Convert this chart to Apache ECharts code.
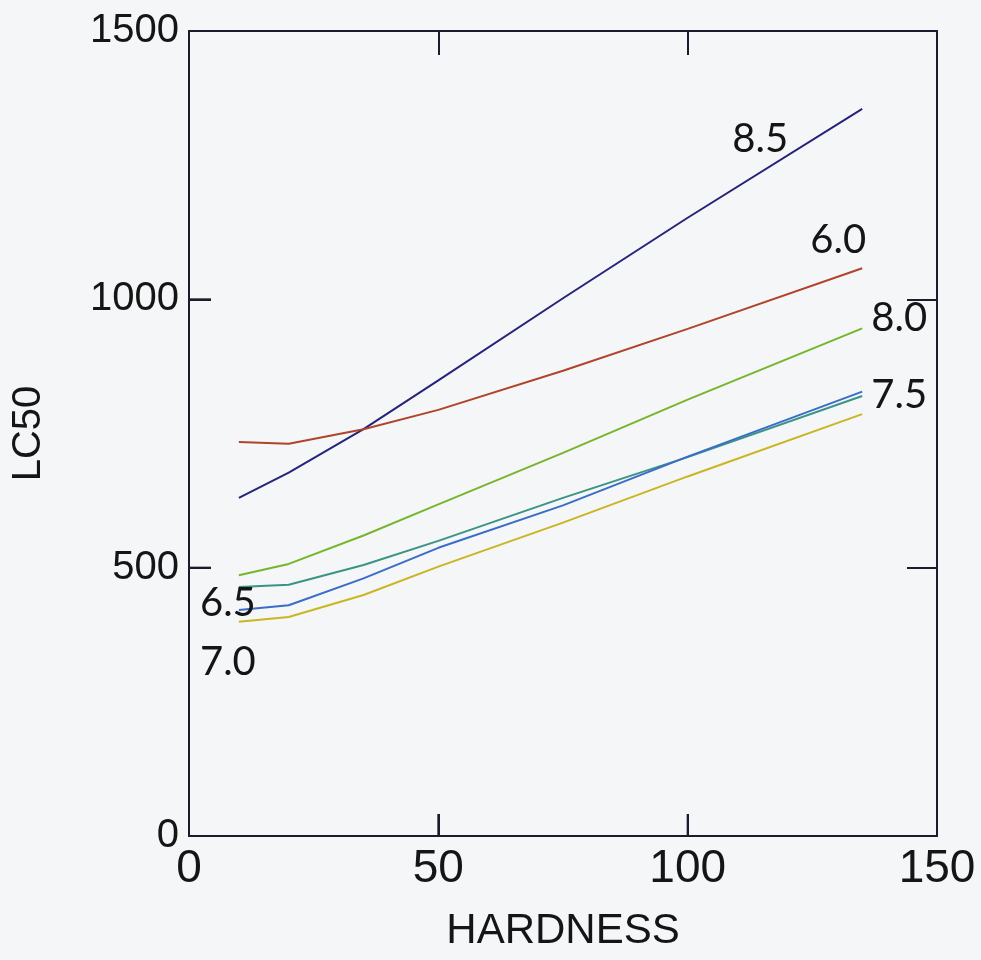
<!DOCTYPE html>
<html>
<head>
<meta charset="utf-8">
<script src="https://cdn.jsdelivr.net/npm/echarts@6/dist/echarts.min.js"></script>
<style>
  html, body { margin: 0; padding: 0; background: #f4f6f7; }
  #chart { width: 981px; height: 960px; }
</style>
</head>
<body>
<div id="chart"></div>
<script>
// ---- data ----
var hardness = [10, 20, 35, 50, 75, 100, 135];
var ph85 = [630, 677, 758, 849, 1002, 1152, 1355];
var ph60 = [734, 731, 758, 794, 867, 945, 1058];
var ph80 = [486, 507, 560, 618, 714, 813, 946];
var ph65 = [464, 468, 505, 550, 630, 706, 820];
var ph75 = [421, 430, 480, 537, 616, 707, 828];
var ph70 = [399, 408, 449, 502, 584, 670, 786];
var xTicks = [0, 50, 100, 150];
var yTicks = [0, 500, 1000, 1500];
var seriesNames = ['8.5', '6.0', '8.0', '6.5', '7.5', '7.0'];

function pairs(vals) {
  return hardness.map(function (h, i) { return [h, vals[i]]; });
}

var axisColor = '#1c1a2e';
var arial = 'Liberation Sans, Arial, sans-serif';
var lblFont = { fontFamily: 'Lato, Noto Sans, sans-serif', fontSize: 40, color: '#151515' };
var plain = function (v) { return String(v); };
var xMin = xTicks[0], xMax = xTicks[xTicks.length - 1];
var yMin = yTicks[0], yMax = yTicks[yTicks.length - 1];
var TICK_LEN = 22;

function endLabel(name, vals, idx, offset) {
  return {
    symbol: 'circle', symbolSize: 0,
    data: [{ coord: [hardness[idx], vals[idx]], value: name }],
    label: Object.assign({ show: true, formatter: name, offset: offset, position: 'inside' }, lblFont)
  };
}

function mkSeries(name, vals, color, mp) {
  return {
    name: name, type: 'line', data: pairs(vals), showSymbol: false, smooth: false,
    lineStyle: { color: color, width: 2 }, itemStyle: { color: color },
    markPoint: mp, z: 3
  };
}

function axTick(len) { return { show: true, inside: true, length: len, lineStyle: { color: axisColor, width: 2 } }; }

var last = hardness.length - 1;
var option = {
  backgroundColor: '#f4f6f7',
  animation: false,
  grid: { left: 189, right: 44, top: 31, bottom: 124 },
  xAxis: [{
    type: 'value', min: xMin, max: xMax, interval: 50,
    name: 'HARDNESS', nameLocation: 'middle', nameGap: 74,
    nameTextStyle: { fontFamily: arial, fontSize: 42, color: '#151515' },
    axisLine: { show: true, lineStyle: { color: axisColor, width: 2 } },
    axisTick: axTick(TICK_LEN),
    axisLabel: { margin: 10, fontFamily: arial, fontSize: 46, color: '#151515', formatter: plain },
    splitLine: { show: false }
  }, {
    type: 'value', position: 'top', min: xMin, max: xMax, interval: 50,
    axisLine: { show: true, onZero: false, lineStyle: { color: axisColor, width: 2 } },
    axisTick: axTick(24),
    axisLabel: { show: false }, splitLine: { show: false }
  }],
  yAxis: [{
    type: 'value', min: yMin, max: yMax, interval: 500,
    name: 'LC50', nameLocation: 'middle', nameGap: 140, nameRotate: 90,
    nameTextStyle: { fontFamily: arial, fontSize: 40, color: '#151515' },
    axisLine: { show: true, lineStyle: { color: axisColor, width: 2 } },
    axisTick: axTick(TICK_LEN),
    axisLabel: { margin: 10, fontFamily: arial, fontSize: 40, color: '#151515', formatter: plain },
    splitLine: { show: false }
  }, {
    type: 'value', position: 'right', min: yMin, max: yMax, interval: 500,
    axisLine: { show: true, onZero: false, lineStyle: { color: axisColor, width: 2 } },
    axisTick: axTick(30),
    axisLabel: { show: false }, splitLine: { show: false }
  }],
  series: [
    mkSeries(seriesNames[0], ph85, '#25237a', endLabel('8.5', ph85, last, [-102, 30])),
    mkSeries(seriesNames[1], ph60, '#b0432a', endLabel('6.0', ph60, last, [-24, -28])),
    mkSeries(seriesNames[2], ph80, '#78b52e', endLabel('8.0', ph80, last, [37, -10])),
    mkSeries(seriesNames[3], ph65, '#3a9486', endLabel('6.5', ph65, 0, [-11, 16])),
    mkSeries(seriesNames[4], ph75, '#3a6cc8', endLabel('7.5', ph75, last, [37, 3])),
    mkSeries(seriesNames[5], ph70, '#c9b622', endLabel('7.0', ph70, 0, [-11, 40]))
  ]
};

var chart = echarts.init(document.getElementById('chart'), null, { renderer: 'canvas' });
chart.setOption(option);

// inward tick marks on the bottom and left axes, placed through the axis scales
var tickGraphics = [];
xTicks.slice(1, -1).forEach(function (v) {
  var p = chart.convertToPixel({ xAxisIndex: 0, yAxisIndex: 0 }, [v, yMin]);
  tickGraphics.push({ type: 'line', z: 100, silent: true,
    shape: { x1: p[0], y1: p[1], x2: p[0], y2: p[1] - TICK_LEN },
    style: { stroke: axisColor, lineWidth: 2 } });
});
yTicks.slice(1, -1).forEach(function (v) {
  var p = chart.convertToPixel({ xAxisIndex: 0, yAxisIndex: 0 }, [xMin, v]);
  tickGraphics.push({ type: 'line', z: 100, silent: true,
    shape: { x1: p[0], y1: p[1], x2: p[0] + TICK_LEN, y2: p[1] },
    style: { stroke: axisColor, lineWidth: 2 } });
});
chart.setOption({ graphic: tickGraphics });
</script>
</body>
</html>
